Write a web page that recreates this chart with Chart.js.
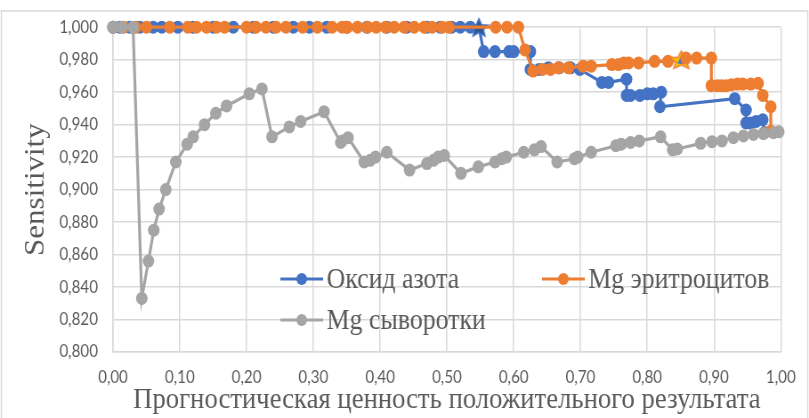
<!DOCTYPE html>
<html>
<head>
<meta charset="utf-8">
<script src="https://cdn.jsdelivr.net/npm/chart.js@4.4.0/dist/chart.umd.min.js"></script>
<style>
  html, body { margin: 0; padding: 0; background: #fff; overflow: hidden; }
  /* the source picture is slightly squeezed horizontally */
  #wrap { width: 909px; height: 418px; transform: scaleX(0.89); transform-origin: 0 0; }
</style>
</head>
<body>
<div id="wrap"><canvas id="rocChart"></canvas></div>
<script>
const seriesNames = ['Оксид азота', 'Mg эритроцитов', 'Mg сыворотки'];
const seriesColors = ['#4472C4', '#ED7D31', '#A5A5A5'];

// Оксид азота
const nitricX = [0, 0.01, 0.025, 0.04, 0.06, 0.073, 0.097, 0.12, 0.15, 0.18, 0.21, 0.24, 0.27, 0.294, 0.32, 0.35, 0.38, 0.41, 0.44, 0.47, 0.49, 0.507, 0.52, 0.535, 0.548,
  0.555, 0.572, 0.593, 0.600, 0.625,
  0.625, 0.638, 0.652, 0.668, 0.685, 0.699,
  0.732, 0.742, 0.769,
  0.769, 0.775, 0.789, 0.800, 0.809, 0.821,
  0.819, 0.931, 0.948, 0.948, 0.955, 0.963, 0.973, 0.975];
const nitricY = [1, 1, 1, 1, 1, 1, 1, 1, 1, 1, 1, 1, 1, 1, 1, 1, 1, 1, 1, 1, 1, 1, 1, 1, 1,
  0.985, 0.985, 0.985, 0.985, 0.985,
  0.974, 0.974, 0.975, 0.975, 0.975, 0.974,
  0.966, 0.966, 0.968,
  0.958, 0.958, 0.958, 0.959, 0.959, 0.960,
  0.951, 0.956, 0.949, 0.941, 0.941, 0.942, 0.943, 0.935];
const nitricStar = 24;

// Mg эритроцитов
const rbcX = [0, 0.016, 0.034, 0.050, 0.085, 0.112, 0.125, 0.140, 0.155, 0.167, 0.200, 0.214, 0.229, 0.244, 0.259, 0.284, 0.306, 0.328, 0.343, 0.351, 0.366, 0.381, 0.394, 0.408, 0.421, 0.436, 0.451, 0.466, 0.478, 0.493, 0.503, 0.573, 0.590, 0.607,
  0.617, 0.629, 0.643, 0.655, 0.667, 0.682, 0.704, 0.716, 0.747, 0.757, 0.765, 0.772, 0.787, 0.811, 0.831, 0.851, 0.858, 0.874, 0.896,
  0.896, 0.905, 0.911, 0.918, 0.926, 0.935, 0.943, 0.955, 0.966, 0.973, 0.985, 0.985];
const rbcY = [1, 1, 1, 1, 1, 1, 1, 1, 1, 1, 1, 1, 1, 1, 1, 1, 1, 1, 1, 1, 1, 1, 1, 1, 1, 1, 1, 1, 1, 1, 1, 1, 1, 1,
  0.986, 0.973, 0.974, 0.974, 0.975, 0.975, 0.976, 0.976, 0.977, 0.977, 0.978, 0.978, 0.978, 0.979, 0.979, 0.980, 0.981, 0.981, 0.981,
  0.964, 0.964, 0.964, 0.964, 0.9645, 0.965, 0.965, 0.965, 0.9655, 0.958, 0.951, 0.936];
const rbcStar = 49;

// Mg сыворотки
const serumX = [0, 0.013, 0.03, 0.043, 0.053, 0.061, 0.069, 0.079, 0.094, 0.111, 0.12, 0.137, 0.154, 0.170, 0.204, 0.223, 0.238, 0.264, 0.281, 0.316,
  0.341, 0.343, 0.352, 0.376, 0.385, 0.393, 0.410, 0.444, 0.470, 0.480, 0.487, 0.496, 0.521, 0.547, 0.572, 0.582, 0.589, 0.615, 0.631, 0.641,
  0.665, 0.691, 0.696, 0.716, 0.753, 0.761, 0.775, 0.788, 0.820, 0.838, 0.845, 0.880, 0.897, 0.912, 0.929, 0.944, 0.959, 0.974, 0.989, 0.997];
const serumY = [1, 1, 1, 0.833, 0.856, 0.875, 0.888, 0.900, 0.917, 0.928, 0.9325, 0.940, 0.947, 0.9515, 0.959, 0.962, 0.9325, 0.9386, 0.942, 0.948,
  0.929, 0.930, 0.932, 0.917, 0.918, 0.920, 0.923, 0.912, 0.916, 0.918, 0.920, 0.921, 0.910, 0.914, 0.917, 0.919, 0.920, 0.923, 0.9245, 0.9265,
  0.917, 0.919, 0.920, 0.923, 0.927, 0.928, 0.929, 0.930, 0.9325, 0.9245, 0.925, 0.9285, 0.9295, 0.930, 0.932, 0.933, 0.934, 0.9345, 0.935, 0.9356];

const xTitle = 'Прогностическая ценность положительного результата';
const yTitle = 'Sensitivity';

const textColor = '#595959';
const gridColor = '#D9D9D9';

function toPoints(xs, ys) {
    return xs.map((x, i) => ({ x: x, y: ys[i] }));
}

// пятиконечная звезда как картинка для маркера
function makeStar(w, h, fill, stroke, inner) {
    const c = document.createElement('canvas');
    c.width = w; c.height = h;
    const g = c.getContext('2d');
    const cx = w / 2, cy = h / 2 + 1;
    const rx = w / 2 - 1.5, ry = h / 2 - 1.5;
    g.beginPath();
    for (let i = 0; i < 10; i++) {
        const a = -Math.PI / 2 + i * Math.PI / 5;
        const k = i % 2 === 0 ? 1 : 0.45;
        g.lineTo(cx + Math.cos(a) * rx * k, cy + Math.sin(a) * ry * k);
    }
    g.closePath();
    g.fillStyle = fill; g.fill();
    g.lineWidth = 1.5; g.strokeStyle = stroke; g.stroke();
    if (inner) {
        g.beginPath();
        g.moveTo(cx, cy - 5); g.lineTo(cx + 4.5, cy + 3); g.lineTo(cx - 4.5, cy + 3);
        g.closePath();
        g.fillStyle = inner; g.fill();
    }
    return c;
}
const blueStar = makeStar(26, 22, '#2F5597', '#4472C4');
const orangeStar = makeStar(32, 22, '#FFC000', '#ED7D31', '#4472C4');

function dataset(i, xs, ys, starIdx, starImg, order) {
    return {
        label: seriesNames[i],
        data: toPoints(xs, ys),
        showLine: true,
        borderColor: seriesColors[i],
        backgroundColor: seriesColors[i],
        borderWidth: 3.2,
        pointRadius: 6.5,
        pointBorderWidth: 0,
        pointStyle: ctx => ctx.dataIndex === starIdx ? starImg : 'circle',
        clip: false,
        order: order
    };
}

// легенда внутри области построения, как в Excel
const legendInside = {
    id: 'legendInside',
    afterDraw(chart) {
        const ctx = chart.ctx;
        const items = [
            { x: 315, y: 279 },
            { x: 609, y: 279 },
            { x: 315, y: 320 }
        ];
        ctx.save();
        ctx.font = '29px "Liberation Serif"';
        ctx.textBaseline = 'middle';
        items.forEach((it, i) => {
            ctx.strokeStyle = seriesColors[i];
            ctx.lineWidth = 3.2;
            ctx.beginPath();
            ctx.moveTo(it.x, it.y);
            ctx.lineTo(it.x + 48, it.y);
            ctx.stroke();
            ctx.beginPath();
            ctx.arc(it.x + 24, it.y, 6, 0, Math.PI * 2);
            ctx.fillStyle = seriesColors[i];
            ctx.fill();
            ctx.fillStyle = textColor;
            ctx.fillText(seriesNames[i], it.x + 52, it.y + 1);
        });
        ctx.restore();
    },
    beforeDraw(chart) {
        const ctx = chart.ctx;
        ctx.save();
        ctx.strokeStyle = gridColor;
        ctx.lineWidth = 1.5;
        ctx.strokeRect(1.5, 11, chart.width - 3, chart.height + 20);
        ctx.restore();
    }
};

const ctx = document.getElementById('rocChart').getContext('2d');
new Chart(ctx, {
    type: 'scatter',
    data: {
        datasets: [
            dataset(0, nitricX, nitricY, nitricStar, blueStar, 2),
            dataset(1, rbcX, rbcY, rbcStar, orangeStar, 1),
            dataset(2, serumX, serumY, -1, null, 0)
        ]
    },
    options: {
        responsive: true,
        maintainAspectRatio: false,
        animation: false,
        layout: { padding: { top: 22, right: 30, bottom: 0, left: 0 } },
        plugins: {
            legend: { display: false },
            tooltip: { enabled: false }
        },
        scales: {
            x: {
                type: 'linear',
                min: 0,
                max: 1,
                afterFit: s => { s.height = 66; },
                ticks: {
                    stepSize: 0.1,
                    padding: 15,
                    color: textColor,
                    font: { family: 'Lato', size: 17 },
                    callback: v => v.toFixed(2).replace('.', ',')
                },
                grid: { color: gridColor, lineWidth: 1.5, drawTicks: false },
                border: { color: gridColor, width: 1.5 },
                title: {
                    display: true,
                    text: xTitle,
                    color: textColor,
                    font: { family: 'Liberation Serif', size: 30 },
                    padding: 0
                }
            },
            y: {
                min: 0.8,
                max: 1.0,
                afterFit: s => { s.width = 127; },
                ticks: {
                    stepSize: 0.02,
                    padding: 17,
                    color: textColor,
                    font: { family: 'Lato', size: 17 },
                    callback: v => v.toFixed(3).replace('.', ',')
                },
                grid: { color: gridColor, lineWidth: 1.5, drawTicks: false },
                border: { color: gridColor, width: 1.5 },
                title: {
                    display: true,
                    text: yTitle,
                    color: textColor,
                    font: { family: 'Liberation Serif', size: 31 },
                    padding: { top: 22, bottom: 0 }
                }
            }
        }
    },
    plugins: [legendInside]
});
</script>
</body>
</html>
